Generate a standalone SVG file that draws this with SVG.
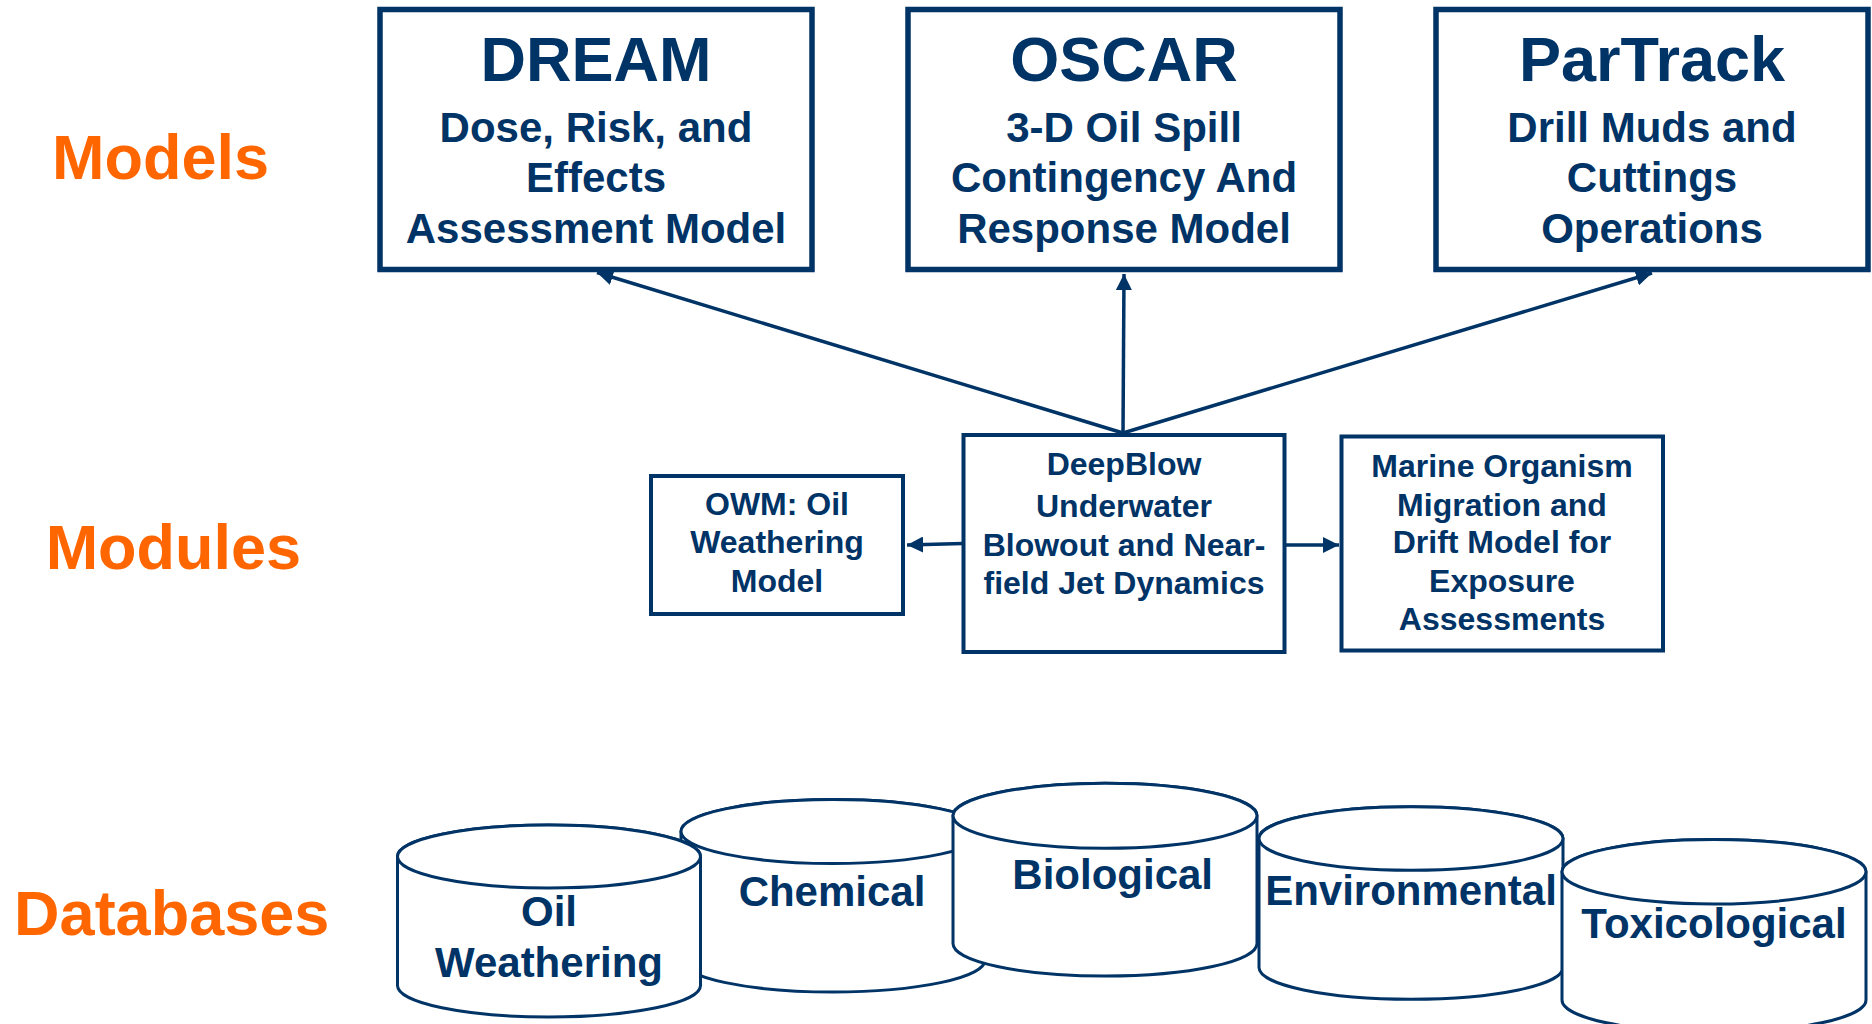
<svg xmlns="http://www.w3.org/2000/svg" width="1872" height="1024" viewBox="0 0 1872 1024">
<defs>
<style>
text{font-family:"Liberation Sans",Arial,Helvetica,sans-serif;font-weight:bold;fill:#003366;text-anchor:middle}
.lbl{fill:#FF6600;font-size:63px}
.title{font-size:63px}
.sub{font-size:42px}
.mod{font-size:32px}
.db{font-size:42px}
.box{fill:#fff;stroke:#003366;stroke-width:5.5}
.mbox{fill:#fff;stroke:#003366;stroke-width:4}
.cyl{fill:#fff;stroke:#003366;stroke-width:3}
.conn{fill:none;stroke:#003366;stroke-width:3.5;marker-end:url(#arr)}
</style>
<marker id="arr" viewBox="0 0 10 10" refX="10" refY="5" markerWidth="4.6" markerHeight="4.6" orient="auto" markerUnits="strokeWidth">
<path d="M0,0 L10,5 L0,10 z" fill="#003366"/>
</marker>
</defs>
<rect width="1872" height="1024" fill="#fff"/>

<g id="labels">
<text class="lbl" x="160.5" y="178.7">Models</text>
<text class="lbl" x="173.4" y="569">Modules</text>
<text class="lbl" x="171.7" y="935">Databases</text>
</g>

<g id="dream">
<rect class="box" x="380" y="9.5" width="432" height="260"/>
<text class="title" x="596" y="81">DREAM</text>
<text class="sub" x="596" y="141.7">Dose, Risk, and</text>
<text class="sub" x="596" y="192.3">Effects</text>
<text class="sub" x="596" y="243.3">Assessment Model</text>
</g>

<g id="oscar">
<rect class="box" x="908" y="9.5" width="432" height="260"/>
<text class="title" x="1124" y="81">OSCAR</text>
<text class="sub" x="1124" y="141.7">3-D Oil Spill</text>
<text class="sub" x="1124" y="192.3">Contingency And</text>
<text class="sub" x="1124" y="243.3">Response Model</text>
</g>

<g id="partrack">
<rect class="box" x="1436" y="9.5" width="432" height="260"/>
<text class="title" x="1652" y="81">ParTrack</text>
<text class="sub" x="1652" y="141.7">Drill Muds and</text>
<text class="sub" x="1652" y="192.3">Cuttings</text>
<text class="sub" x="1652" y="243.3">Operations</text>
</g>

<g id="owm">
<rect class="mbox" x="651" y="476" width="252" height="138"/>
<text class="mod" x="777" y="515">OWM: Oil</text>
<text class="mod" x="777" y="553.3">Weathering</text>
<text class="mod" x="777" y="591.7">Model</text>
</g>

<g id="deepblow">
<rect class="mbox" x="963.5" y="435" width="321" height="217"/>
<text class="mod" x="1124" y="475">DeepBlow</text>
<text class="mod" x="1124" y="516.5">Underwater</text>
<text class="mod" x="1124" y="555.5">Blowout and Near-</text>
<text class="mod" x="1124" y="594">field Jet Dynamics</text>
</g>

<g id="marine">
<rect class="mbox" x="1341.5" y="436.5" width="321.5" height="214"/>
<text class="mod" x="1502" y="477.3">Marine Organism</text>
<text class="mod" x="1502" y="515.7">Migration and</text>
<text class="mod" x="1502" y="553.3">Drift Model for</text>
<text class="mod" x="1502" y="591.7">Exposure</text>
<text class="mod" x="1502" y="630">Assessments</text>
</g>

<g id="connectors">
<line class="conn" x1="1123" y1="433" x2="597" y2="272.5"/>
<line class="conn" x1="1123" y1="433" x2="1124" y2="274"/>
<line class="conn" x1="1123" y1="433" x2="1652" y2="273"/>
<line class="conn" x1="963" y1="543.5" x2="907" y2="545"/>
<line class="conn" x1="1286" y1="545" x2="1339" y2="545"/>
</g>

<g id="db-chemical">
<path class="cyl" d="M681,831.5 V960 A152,32 0 0 0 985,960 V831.5 A152,32 0 0 0 681,831.5 Z"/>
<ellipse class="cyl" cx="833" cy="831.5" rx="152" ry="32"/>
<text class="db" x="832" y="906">Chemical</text>
</g>

<g id="db-oil">
<path class="cyl" d="M397.5,856.5 V985.5 A151.5,31.5 0 0 0 700.5,985.5 V856.5 A151.5,31.5 0 0 0 397.5,856.5 Z"/>
<ellipse class="cyl" cx="549" cy="856.5" rx="151.5" ry="31.5"/>
<text class="db" x="549" y="926">Oil</text>
<text class="db" x="549" y="976.7">Weathering</text>
</g>

<g id="db-biological">
<path class="cyl" d="M953,815.8 V943.5 A152,32.5 0 0 0 1257,943.5 V815.8 A152,32.5 0 0 0 953,815.8 Z"/>
<ellipse class="cyl" cx="1105" cy="815.8" rx="152" ry="32.5"/>
<text class="db" x="1112.7" y="889.3">Biological</text>
</g>

<g id="db-environmental">
<path class="cyl" d="M1259,838.5 V967.5 A152,31.7 0 0 0 1563,967.5 V838.5 A152,31.7 0 0 0 1259,838.5 Z"/>
<ellipse class="cyl" cx="1411" cy="838.5" rx="152" ry="31.7"/>
<text class="db" x="1411" y="905">Environmental</text>
</g>

<g id="db-toxicological">
<path class="cyl" d="M1562,871.7 V1000 A152,32.3 0 0 0 1866,1000 V871.7 A152,32.3 0 0 0 1562,871.7 Z"/>
<ellipse class="cyl" cx="1714" cy="871.7" rx="152" ry="32.3"/>
<text class="db" x="1714" y="938.3">Toxicological</text>
</g>
</svg>
